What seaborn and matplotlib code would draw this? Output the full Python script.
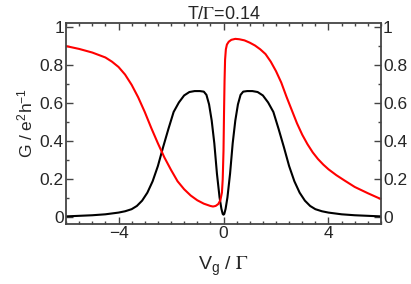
import pandas as pd
import matplotlib
matplotlib.use("Agg")
import matplotlib.pyplot as plt
import seaborn as sns
from matplotlib.ticker import MultipleLocator, FuncFormatter

# --- 数据 ---
vg_black = [-6, -5.5, -5, -4.5, -4.0, -3.75, -3.5, -3.3, -3.1, -2.9, -2.7,
            -2.5, -2.3, -2.1, -1.9, -1.7, -1.5, -1.3, -1.1, -0.9, -0.75,
            -0.65, -0.55, -0.45, -0.35, -0.25, -0.15, -0.08, -0.03, 0,
            0.03, 0.08, 0.15, 0.25, 0.35, 0.45, 0.55, 0.65, 0.75, 0.9, 1.1,
            1.3, 1.5, 1.7, 1.9, 2.1, 2.3, 2.5, 2.7, 2.9, 3.1, 3.3, 3.5, 3.75,
            4.0, 4.5, 5, 5.5, 6]
g_black = [0.005, 0.008, 0.011, 0.016, 0.025, 0.032, 0.043, 0.06, 0.088, 0.13,
           0.19, 0.27, 0.37, 0.465, 0.555, 0.605, 0.642, 0.66, 0.665, 0.665,
           0.662, 0.645, 0.595, 0.51, 0.39, 0.23, 0.105, 0.045, 0.018, 0.014,
           0.018, 0.045, 0.105, 0.23, 0.39, 0.51, 0.595, 0.645, 0.662, 0.665,
           0.665, 0.66, 0.642, 0.605, 0.555, 0.465, 0.37, 0.27, 0.19, 0.13,
           0.088, 0.06, 0.043, 0.032, 0.025, 0.016, 0.011, 0.008, 0.005]

vg_red = [-6, -5.5, -5.0, -4.5, -4.25, -4.0, -3.75, -3.5, -3.25, -3.0, -2.75,
          -2.5, -2.25, -2.0, -1.75, -1.5, -1.25, -1.0, -0.75, -0.5, -0.4,
          -0.3, -0.2, -0.12, -0.06, -0.03, 0, 0.02, 0.04, 0.06, 0.09, 0.13,
          0.2, 0.3, 0.45, 0.6, 0.8, 1.0, 1.2, 1.4, 1.6, 1.8, 2.0, 2.2, 2.4,
          2.6, 2.8, 3.0, 3.2, 3.4, 3.6, 3.8, 4.0, 4.3, 4.6, 5.0, 5.5, 6.0]
g_red = [0.902, 0.887, 0.868, 0.842, 0.82, 0.792, 0.752, 0.698, 0.632, 0.555,
         0.47, 0.39, 0.315, 0.25, 0.19, 0.148, 0.115, 0.09, 0.072, 0.06,
         0.057, 0.06, 0.07, 0.09, 0.13, 0.2, 0.35, 0.55, 0.72, 0.83, 0.885,
         0.91, 0.925, 0.935, 0.94, 0.938, 0.932, 0.92, 0.905, 0.885, 0.86,
         0.82, 0.77, 0.71, 0.635, 0.565, 0.495, 0.435, 0.385, 0.342, 0.307,
         0.278, 0.253, 0.222, 0.195, 0.16, 0.127, 0.096]

df_black = pd.DataFrame({"Vg": vg_black, "G": g_black})
df_red = pd.DataFrame({"Vg": vg_red, "G": g_red})

# --- 绘图 ---
sns.set_style("ticks")
plt.rcParams['font.family'] = ['Liberation Sans', 'DejaVu Sans']
plt.rcParams['mathtext.fontset'] = 'stix'

fig = plt.figure(figsize=(4.11, 2.84), dpi=100)
ax = fig.add_axes([0.1606, 0.2113, 0.7664, 0.7087])

sns.lineplot(data=df_black, x="Vg", y="G", ax=ax, color="black", lw=1.5, sort=False)
sns.lineplot(data=df_red, x="Vg", y="G", ax=ax, color="red", lw=1.5, sort=False)

ax.set_xlim(-6, 6)
ax.set_ylim(-0.035, 1.025)

ax.xaxis.set_major_locator(MultipleLocator(4))
ax.xaxis.set_minor_locator(MultipleLocator(0.5))
ax.yaxis.set_major_locator(MultipleLocator(0.2))
ax.yaxis.set_minor_locator(MultipleLocator(0.1))
ax.yaxis.set_major_formatter(FuncFormatter(lambda v, p: f"{v:g}"))

ax.tick_params(which="both", direction="in", top=True, right=True,
               labelright=True, width=1, color="#444444")
ax.tick_params(which="major", length=5, labelsize=12.5, pad=1.5)
ax.tick_params(which="minor", length=2.5)
for s in ax.spines.values():
    s.set_linewidth(1.3)
    s.set_color("#444444")

ax.set_xlabel(r"V$\mathregular{_g}$ / $\Gamma$", fontsize=14, labelpad=10)
ax.set_ylabel(r"G / e$\mathregular{^2}$h$\mathregular{^{-1}}$", fontsize=12.5, labelpad=3)
ax.set_title(r"T/$\Gamma$=0.14", fontsize=13, pad=3)

fig.savefig("out.png", dpi=100)
